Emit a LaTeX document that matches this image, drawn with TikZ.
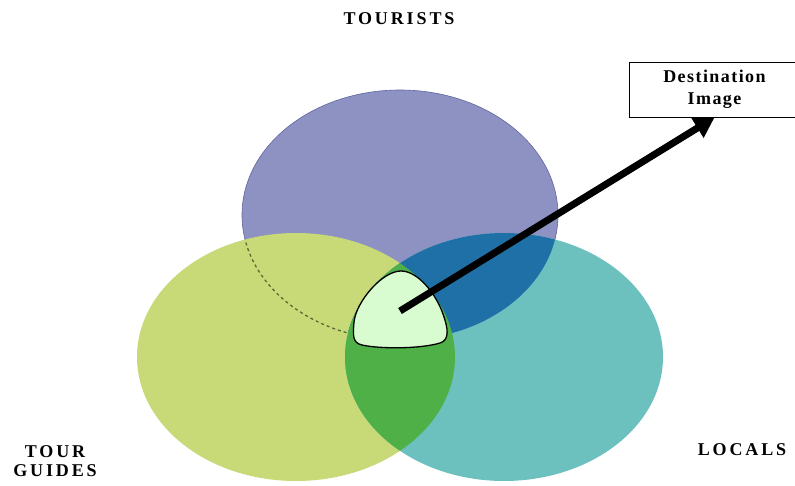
\documentclass[tikz,border=0pt]{standalone}
\usepackage{fontspec}
\setmainfont{Liberation Serif}
\newfontfamily\spaced[LetterSpace=16]{Liberation Serif}
\newfontfamily\boxfont[LetterSpace=8]{Liberation Serif}
\usetikzlibrary{arrows.meta}
\definecolor{topc}{RGB}{142,146,194}
\definecolor{topedge}{RGB}{96,100,160}
\definecolor{leftc}{RGB}{200,218,120}
\definecolor{rightc}{RGB}{108,192,190}
\definecolor{trc}{RGB}{32,112,168}
\definecolor{lrc}{RGB}{80,176,72}
\definecolor{centerc}{RGB}{216,252,208}
\definecolor{dashc}{RGB}{88,108,50}
\tikzset{
  grouplabel/.style={font=\fontsize{18}{19}\selectfont\bfseries\spaced, align=center, inner sep=0pt},
  destbox/.style={draw=black, line width=1pt, fill=white, font=\fontsize{18}{22}\selectfont\bfseries\boxfont, align=center, minimum width=171pt, minimum height=55pt, inner sep=0pt},
  bigarrow/.style={line width=7pt, -{Triangle[length=20pt,width=22pt]}, black}
}
\begin{document}
\begin{tikzpicture}[x=1pt,y=-1pt]
\useasboundingbox (0,0) rectangle (795,485);
\clip (0,0) rectangle (795,485);
% tourists ellipse
\fill[topc] (400,215) ellipse [x radius=158pt, y radius=125pt];
\draw[topedge, line width=0.6pt] (400,215) ellipse [x radius=158pt, y radius=125pt];
% tour guides ellipse
\fill[leftc] (296,357) ellipse [x radius=159pt, y radius=124pt];
\begin{scope}
  \clip (296,357) ellipse [x radius=159pt, y radius=124pt];
  \draw[dashc, line width=1.3pt, dash pattern=on 3pt off 3pt] (400,215) ellipse [x radius=158pt, y radius=125pt];
\end{scope}
% locals ellipse
\fill[rightc] (504,357) ellipse [x radius=159pt, y radius=124pt];
% tourists & locals
\begin{scope}
  \clip (400,215) ellipse [x radius=158pt, y radius=125pt];
  \fill[trc] (504,357) ellipse [x radius=159pt, y radius=124pt];
\end{scope}
% guides & locals
\begin{scope}
  \clip (296,357) ellipse [x radius=159pt, y radius=124pt];
  \fill[lrc] (504,357) ellipse [x radius=159pt, y radius=124pt];
\end{scope}
% common region
\draw[fill=centerc, line width=1.3pt] (401,271) .. controls (418,271) and (436,294) .. (443,314)
  .. controls (448,328) and (450,340) .. (440,343)
  .. controls (420,349) and (380,349) .. (362,345)
  .. controls (352,343) and (353,334) .. (354,322)
  .. controls (356,302) and (382,271) .. (401,271) -- cycle;
\coordinate (core) at (400,311);
% labels
\node[grouplabel] (tourists) at (399,19) {TOURISTS};
\node[grouplabel] (guides) at (55,461) {TOUR\\GUIDES};
\node[grouplabel] (locals) at (742,450) {LOCALS};
\node[destbox] (dest) at (714.5,89.5) {Destination\\Image};
\draw[bigarrow] (core) -- (dest.south);
\end{tikzpicture}
\end{document}
